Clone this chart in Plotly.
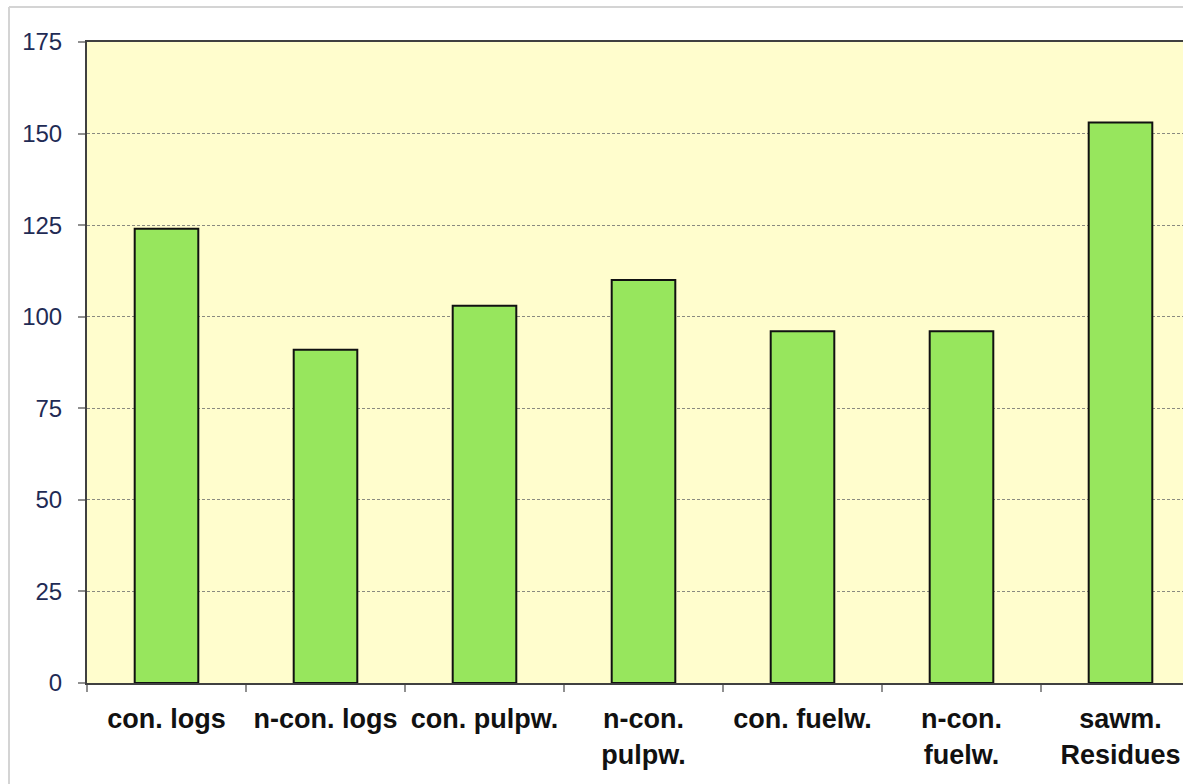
import plotly.graph_objects as go

categories = ["con. logs", "n-con. logs", "con. pulpw.", "n-con.<br>pulpw.",
              "con. fuelw.", "n-con.<br>fuelw.", "sawm.<br>Residues"]
values = [124, 91, 103, 110, 96, 96, 153]
y_ticks = [0, 25, 50, 75, 100, 125, 150, 175]

W, H = 1183, 784
L, T, B, R = 87, 42, 101, 0
pw, ph = W - L - R, H - T - B

def px(x):
    return (x - L) / pw

def py(y):
    return (H - B - y) / ph

fig = go.Figure(go.Bar(
    x=categories, y=values, width=0.4,
    marker=dict(color="#97E65D", line=dict(color="#111111", width=2)),
))

fig.update_layout(
    width=W, height=H,
    margin=dict(l=L, r=R, t=T, b=B),
    paper_bgcolor="white", plot_bgcolor="#FFFDCD",
    showlegend=False,
    font=dict(family="Liberation Sans, Arial, sans-serif"),
    shapes=[
        dict(type="line", xref="paper", yref="paper", x0=px(9), x1=px(1200),
             y0=py(7), y1=py(7), line=dict(color="#D4D4D4", width=2)),
        dict(type="line", xref="paper", yref="paper", x0=px(9), x1=px(9),
             y0=py(7), y1=py(800), line=dict(color="#D4D4D4", width=2)),
    ],
)

fig.update_xaxes(
    type="category",
    range=[-0.5, (W - L) / 159 - 0.5],
    tickson="boundaries", ticks="outside", ticklen=7, tickcolor="#909090", tickwidth=1.5,
    showline=True, linecolor="#404040", linewidth=2, mirror=True,
    showgrid=False, tickangle=0,
    tickfont=dict(size=27, color="#111111", family="Liberation Sans, Arial, sans-serif", weight="bold"),
    ticklabelstandoff=11,
)
fig.update_yaxes(
    range=[0, 175], tickvals=y_ticks,
    ticks="outside", ticklen=7, tickcolor="#909090", tickwidth=1.5,
    showline=True, linecolor="#404040", linewidth=2,
    showgrid=True, gridcolor="#8A8A80", gridwidth=1, griddash="3px,2px",
    zeroline=False,
    tickfont=dict(size=24, color="#1F2B55"),
    ticklabelstandoff=11,
)

fig.write_html("out.html")
